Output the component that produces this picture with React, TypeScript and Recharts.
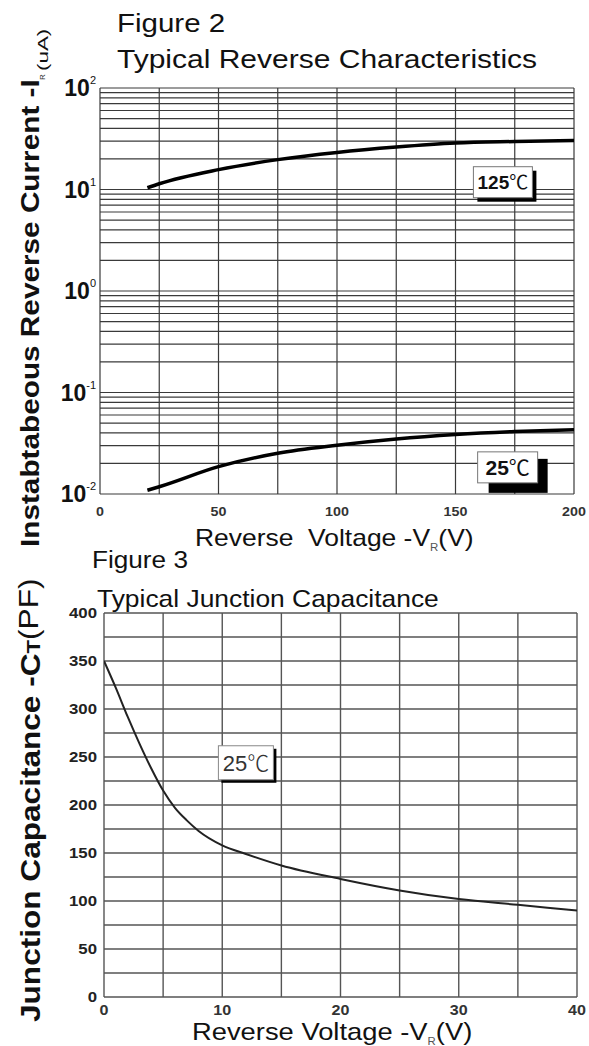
import React from 'react';
import { LineChart, Line, XAxis, YAxis, CartesianGrid, ReferenceDot } from 'recharts';

// ---------- Figure 2 : Typical Reverse Characteristics ----------
const reverseVoltage = [20, 25, 50, 75, 100, 125, 150, 175, 200];
const current125C = [10.4, 11.4, 15.7, 19.7, 23.2, 26.2, 28.7, 29.7, 30.4];
const current25C = [0.0109, 0.0118, 0.0186, 0.0252, 0.0302, 0.0348, 0.0385, 0.0412, 0.043];
const currentTicks = [0.01, 0.1, 1, 10, 100];
const currentTickExponents = ['-2', '-1', '0', '1', '2'];
const currentDecades = [0.01, 0.1, 1, 10];
const decadeMultipliers = [1, 2, 3, 4, 5, 6, 7, 8, 9];
const voltageTicks = [0, 50, 100, 150, 200];
const voltageGrid = [0, 25, 50, 75, 100, 125, 150, 175, 200];

// ---------- Figure 3 : Typical Junction Capacitance ----------
const capVoltage = [0, 1, 2, 3, 4, 5, 6, 7, 8, 10, 12, 15, 20, 25, 30, 35, 40];
const capacitance = [350, 322, 292, 264, 238, 215, 197, 184, 173, 158, 149, 137, 123, 111, 102, 96, 90];
const capTicks = [0, 50, 100, 150, 200, 250, 300, 350, 400];
const capGrid = [0, 25, 50, 75, 100, 125, 150, 175, 200, 225, 250, 275, 300, 325, 350, 375, 400];
const capVoltageTicks = [0, 10, 20, 30, 40];
const capVoltageGrid = [0, 5, 10, 15, 20, 25, 30, 35, 40];

const irData = reverseVoltage.map((v, i) => ({ v, hot: current125C[i], room: current25C[i] }));
const currentGrid = [
  ...currentDecades.flatMap((d) => decadeMultipliers.map((m) => +(m * d).toPrecision(3))),
  100,
];
const capData = capVoltage.map((v, i) => ({ v, c: capacitance[i] }));

const SANS = '"Liberation Sans", Arial, "DejaVu Sans", sans-serif';
const CJK = '"Noto Sans CJK SC", "DejaVu Sans", sans-serif';

const LogTick = (props: any) => {
  const { x, y, payload } = props;
  const idx = currentTicks.findIndex((t) => Math.abs(t - payload.value) < t * 1e-6);
  const exp = idx >= 0 ? currentTickExponents[idx] : '';
  return (
    <text x={x - 4} y={y + 8} textAnchor="end" fontFamily={SANS} fill="#111">
      <tspan fontSize={23} fontWeight="bold">10</tspan>
      <tspan fontSize={11} dy={-12}>{exp}</tspan>
    </text>
  );
};

const TopXTick = (props: any) => {
  const { x, y, payload } = props;
  return (
    <g transform={`translate(${x},${y + 22}) scale(1.1,1)`}>
      <text x={0} y={0} textAnchor="middle" fontFamily={SANS} fontSize={13} fontWeight="bold" fill="#333">
        {payload.value}
      </text>
    </g>
  );
};

const CapYTick = (props: any) => {
  const { x, y, payload } = props;
  return (
    <g transform={`translate(${x - 7},${y + 5}) scale(1.2,1)`}>
      <text x={0} y={0} textAnchor="end" fontFamily={SANS} fontSize={14} fontWeight="bold" fill="#222">
        {payload.value}
      </text>
    </g>
  );
};

const CapXTick = (props: any) => {
  const { x, y, payload } = props;
  return (
    <g transform={`translate(${x},${y + 18}) scale(1.15,1)`}>
      <text x={0} y={0} textAnchor="middle" fontFamily={SANS} fontSize={14} fontWeight="bold" fill="#333">
        {payload.value}
      </text>
    </g>
  );
};

const Hot125Label = (props: any) => {
  const { cx, cy } = props;
  const w = 59;
  const h = 31;
  const x = cx - w / 2;
  const y = cy - h / 2;
  return (
    <g>
      <rect x={x + 4} y={y + 4} width={w} height={h} fill="#000" />
      <rect x={x} y={y} width={w} height={h} fill="#fff" stroke="#777" strokeWidth={1} />
      <text x={cx} y={cy + 7} textAnchor="middle" fontFamily={SANS} fontSize={19} fontWeight="bold" fill="#111">
        125<tspan fontFamily={CJK} fontWeight="normal">℃</tspan>
      </text>
    </g>
  );
};

const Room25Label = (props: any) => {
  const { cx, cy } = props;
  const w = 60;
  const h = 31;
  const x = cx - w / 2;
  const y = cy - h / 2;
  return (
    <g>
      <rect x={x + 11} y={y + 7} width={59} height={34} fill="#000" />
      <rect x={x} y={y} width={w} height={h} fill="#fff" stroke="#777" strokeWidth={1} />
      <text x={cx} y={cy + 8} textAnchor="middle" fontFamily={SANS} fontSize={21} fontWeight="bold" fill="#111">
        25<tspan fontFamily={CJK} fontWeight="normal">℃</tspan>
      </text>
    </g>
  );
};

const Cap25Label = (props: any) => {
  const { cx, cy } = props;
  const w = 55;
  const h = 34;
  const x = cx - w / 2;
  const y = cy - h / 2;
  return (
    <g>
      <rect x={x + 3} y={y + 3} width={w} height={h} fill="#000" />
      <rect x={x} y={y} width={w} height={h} fill="#fff" stroke="#888" strokeWidth={1} />
      <text x={cx} y={cy + 8} textAnchor="middle" fontFamily={SANS} fontSize={22} fill="#333">
        25<tspan fontFamily={CJK} fontWeight="300">℃</tspan>
      </text>
    </g>
  );
};

export default function App() {
  return (
    <div style={{ position: 'absolute', left: 0, top: 0, width: 589, height: 1046, background: '#fff', overflow: 'hidden' }}>
      <div style={{ position: 'absolute', left: 0, top: 0 }}>
        <LineChart width={589} height={560} data={irData} margin={{ top: 88, right: 15, bottom: 36, left: 0 }}>
          <CartesianGrid
            horizontalValues={currentGrid}
            verticalValues={voltageGrid}
            stroke="#3a3a3a"
            strokeWidth={1.2}
            strokeOpacity={1}
          />
          <XAxis
            dataKey="v"
            type="number"
            domain={[0, 200]}
            ticks={voltageTicks}
            interval={0}
            tick={<TopXTick />}
            tickLine={false}
            axisLine={false}
            tickSize={0}
            tickMargin={0}
            height={30}
            allowDataOverflow
          />
          <YAxis
            type="number"
            scale="log"
            domain={[0.01, 100]}
            ticks={currentTicks}
            interval={0}
            tick={<LogTick />}
            tickLine={false}
            axisLine={false}
            tickSize={0}
            tickMargin={0}
            width={100}
            allowDataOverflow
          />
          <Line dataKey="hot" type="monotone" stroke="#000" strokeWidth={3.5} dot={false} isAnimationActive={false} />
          <Line dataKey="room" type="monotone" stroke="#000" strokeWidth={3.5} dot={false} isAnimationActive={false} />
          <ReferenceDot x={170} y={11.8} r={0} ifOverflow="visible" shape={(p: any) => <Hot125Label {...p} />} />
          <ReferenceDot x={172} y={0.0183} r={0} ifOverflow="visible" shape={(p: any) => <Room25Label {...p} />} />
        </LineChart>
      </div>

      <div style={{ position: 'absolute', left: 0, top: 560 }}>
        <LineChart width={589} height={486} data={capData} margin={{ top: 53, right: 12, bottom: 19, left: 0 }}>
          <CartesianGrid
            horizontalValues={capGrid}
            verticalValues={capVoltageGrid}
            stroke="#555"
            strokeWidth={1.4}
            strokeOpacity={1}
          />
          <XAxis
            dataKey="v"
            type="number"
            domain={[0, 40]}
            ticks={capVoltageTicks}
            interval={0}
            tick={<CapXTick />}
            tickLine={false}
            axisLine={false}
            tickSize={0}
            tickMargin={0}
            height={30}
            allowDataOverflow
          />
          <YAxis
            type="number"
            domain={[0, 400]}
            ticks={capTicks}
            interval={0}
            tick={<CapYTick />}
            tickLine={false}
            axisLine={false}
            tickSize={0}
            tickMargin={0}
            width={104}
            allowDataOverflow
          />
          <Line dataKey="c" type="monotone" stroke="#222" strokeWidth={2} dot={false} isAnimationActive={false} />
          <ReferenceDot x={12} y={244} r={0} ifOverflow="visible" shape={(p: any) => <Cap25Label {...p} />} />
        </LineChart>
      </div>

      <svg
        width={589}
        height={1046}
        style={{ position: 'absolute', left: 0, top: 0, pointerEvents: 'none' }}
        fontFamily={SANS}
      >
        {/* Figure 2 titles */}
        <g transform="translate(117,32) scale(1.18,1)">
          <text x={0} y={0} fontSize={25} fill="#111">Figure 2</text>
        </g>
        <g transform="translate(117,68) scale(1.2,1)">
          <text x={0} y={0} fontSize={25} fill="#111">Typical Reverse Characteristics</text>
        </g>
        {/* Figure 2 x label */}
        <g transform="translate(195,546) scale(1.15,1)">
          <text x={0} y={0} fontSize={23} fill="#111">
            {'Reverse\u00a0 Voltage -V'}
            <tspan fontSize={10} dy={5} fill="#555">R</tspan>
            <tspan fontSize={23} dy={-5}>(V)</tspan>
          </text>
        </g>
        {/* Figure 2 y label */}
        <g transform="translate(39,547) rotate(-90) scale(1.19,1)">
          <text x={0} y={0} fontSize={25} fontWeight="bold" fill="#111">Instabtabeous Reverse Current -I</text>
        </g>
        <g transform="translate(45,80) rotate(-90)">
          <text x={0} y={0} fontSize={8} fill="#333">R</text>
        </g>
        <g transform="translate(48,71) rotate(-90) scale(1.6,1)">
          <text x={0} y={0} fontSize={14} fill="#111">(uA)</text>
        </g>

        {/* Figure 3 titles */}
        <g transform="translate(92,568) scale(1.09,1)">
          <text x={0} y={0} fontSize={24} fill="#111">Figure 3</text>
        </g>
        <g transform="translate(97,607) scale(1.1,1)">
          <text x={0} y={0} fontSize={24} fill="#111">Typical Junction Capacitance</text>
        </g>
        {/* Figure 3 x label */}
        <g transform="translate(192,1040) scale(1.14,1)">
          <text x={0} y={0} fontSize={24} fill="#111">
            Reverse Voltage -V
            <tspan fontSize={10} dy={5} fill="#555">R</tspan>
            <tspan fontSize={24} dy={-5}>(V)</tspan>
          </text>
        </g>
        {/* Figure 3 y label */}
        <g transform="translate(40,1022) rotate(-90) scale(1.17,1)">
          <text x={0} y={0} fontSize={27} fontWeight="bold" fill="#111">
            Junction Capacitance -C
            <tspan fontSize={19}>T</tspan>
            <tspan fontSize={27} fontWeight="normal" dy={-2}>(PF)</tspan>
          </text>
        </g>
      </svg>
    </div>
  );
}
